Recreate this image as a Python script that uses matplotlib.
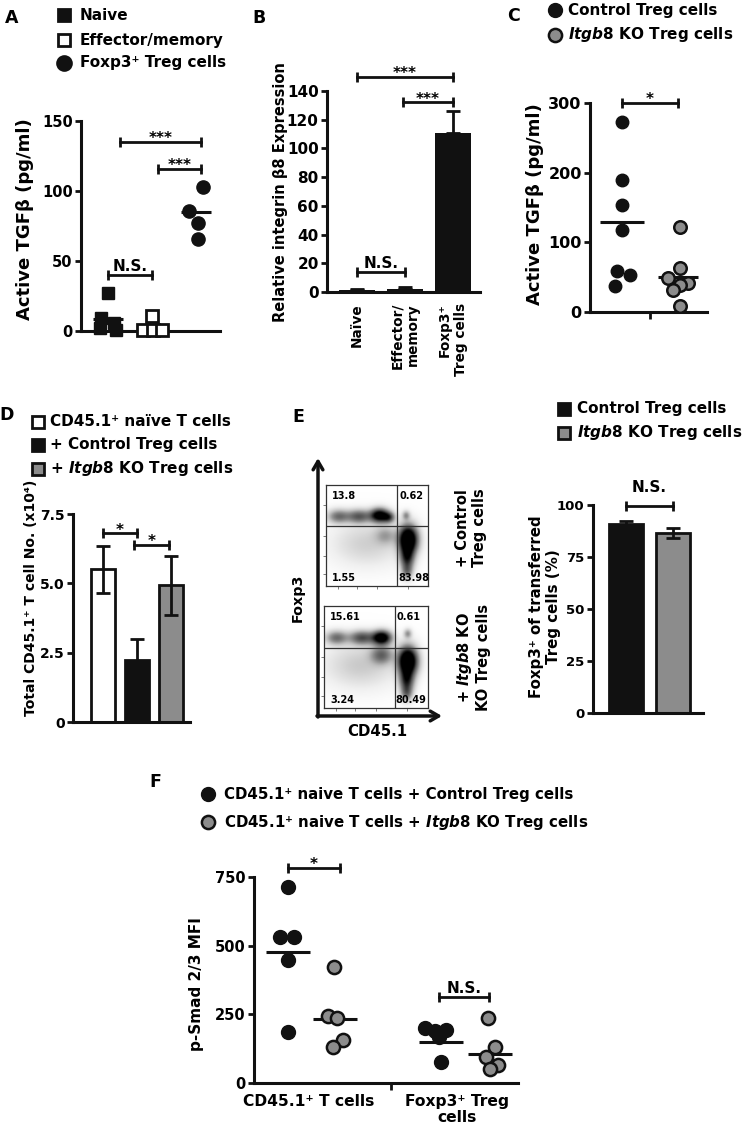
import numpy as np
import matplotlib.pyplot as plt

plt.rcParams['font.family'] = ['DejaVu Sans']
plt.rcParams['font.weight'] = 'bold'
plt.rcParams['mathtext.fontset'] = 'custom'
plt.rcParams['mathtext.rm'] = 'DejaVu Sans:bold'
plt.rcParams['mathtext.it'] = 'DejaVu Sans:italic:bold'
plt.rcParams['mathtext.bf'] = 'DejaVu Sans:bold'
plt.rcParams['mathtext.default'] = 'rm'

BLACK = '#111111'
GRAY = '#8c8c8c'
W, H = 746, 1130

# ---------------- data ----------------
# A: active TGFb (pg/ml)
a_groups = ['Naive', 'Effector/memory', 'Foxp3⁺ Treg cells']
a_naive = [27, 9, 6, 2, 1]
a_effector = [11, 1, 1, 1]
a_treg = [103, 86, 77, 66]
a_lines = [8.5, 2, 85]
a_naive_dx = [0, -0.15, 0.15, -0.18, 0.18]
a_effector_dx = [0, -0.2, 0.02, 0.24]
a_treg_dx = [0.16, -0.16, 0.05, 0.05]

# B: relative integrin b8 expression
b_labels = ['Naïve', 'Effector/\nmemory', 'Foxp3⁺\nTreg cells']
b_vals = [1.2, 2.0, 111]
b_err = [1.0, 1.2, 15]

# C: active TGFb, control vs Itgb8 KO Treg
c_control = [273, 190, 153, 118, 59, 53, 37]
c_ko = [122, 63, 49, 42, 39, 32, 9]
c_means = [129, 50]
c_control_dx = [0, 0, 0, 0, -0.09, 0.15, -0.13]
c_ko_dx = [0.04, 0.04, -0.18, 0.18, 0.04, -0.09, 0.04]

# D: total CD45.1+ T cell number (x10^4)
d_labels = ['CD45.1⁺ naïve T cells', '+ Control Treg cells', '+ $\\mathit{Itgb8}$ KO Treg cells']
d_vals = [5.5, 2.25, 4.93]
d_err = [0.85, 0.75, 1.07]

# E: flow quadrant percentages and Foxp3+ of transferred Treg cells
e_quad_control = ['13.8', '0.62', '1.55', '83.98']
e_quad_ko = ['15.61', '0.61', '3.24', '80.49']
e_labels = ['Control Treg cells', '$\\mathit{Itgb8}$ KO Treg cells']
e_vals = [91, 86.5]
e_err = [1.5, 2.5]
# flow populations: (x, y, spread x, spread y, weight)
e_blobs_control = [(0.12, 0.69, 0.07, 0.045, 0.5), (0.32, 0.69, 0.08, 0.045, 0.6),
                   (0.52, 0.70, 0.06, 0.045, 1.2), (0.61, 0.68, 0.04, 0.035, 0.6),
                   (0.78, 0.70, 0.025, 0.03, 0.35), (0.80, 0.46, 0.06, 0.09, 1.6),
                   (0.79, 0.28, 0.045, 0.08, 0.8), (0.79, 0.14, 0.035, 0.05, 0.4),
                   (0.40, 0.42, 0.22, 0.14, 0.15), (0.58, 0.50, 0.07, 0.06, 0.25)]
e_blobs_ko = [(0.12, 0.69, 0.07, 0.045, 0.5), (0.36, 0.69, 0.08, 0.045, 0.65),
              (0.55, 0.69, 0.06, 0.045, 1.3), (0.80, 0.73, 0.025, 0.03, 0.35),
              (0.80, 0.46, 0.06, 0.09, 1.6), (0.79, 0.27, 0.045, 0.08, 0.8),
              (0.79, 0.14, 0.035, 0.05, 0.4), (0.55, 0.52, 0.07, 0.06, 0.5),
              (0.35, 0.42, 0.22, 0.14, 0.17)]

# F: p-Smad 2/3 MFI
f_cats = ['CD45.1⁺ T cells', 'Foxp3⁺ Treg\ncells']
f_cd45_control = [713, 530, 532, 448, 186]
f_cd45_ko = [422, 244, 237, 157, 131]
f_treg_control = [200, 193, 190, 167, 76]
f_treg_ko = [237, 131, 95, 66, 51]
f_means = [477, 233, 151, 106]
f_cd45_control_dx = [0, -0.17, 0.13, 0, 0]
f_cd45_ko_dx = [-0.02, -0.15, 0.04, 0.17, -0.04]
f_treg_control_dx = [-0.33, 0.1, -0.12, -0.03, 0]
f_treg_ko_dx = [-0.04, 0.1, -0.1, 0.17, 0]


def add_ax(x0, y0, x1, y1):
    return fig.add_axes([x0 / W, 1 - y1 / H, (x1 - x0) / W, (y1 - y0) / H])


def style(ax, fs):
    for s in ['top', 'right']:
        ax.spines[s].set_visible(False)
    for s in ['left', 'bottom']:
        ax.spines[s].set_linewidth(2.2)
        ax.spines[s].set_color(BLACK)
    ax.tick_params(width=2, length=4, labelsize=fs, color=BLACK, pad=2)
    ax.set_facecolor('none')


def bracket(ax, x1, x2, y, label, dy=0, fs=11):
    ax.plot([x1, x2], [y, y], color=BLACK, lw=2, marker='|', ms=7, mew=2,
            clip_on=False, zorder=4)
    ax.annotate(label, xy=((x1 + x2) / 2, y), xytext=(0, dy), textcoords='offset points',
                ha='center', va='baseline', fontsize=fs, annotation_clip=False)


def mean_line(ax, x, v, half):
    ax.plot([x - half, x + half], [v, v], color=BLACK, lw=2.2, zorder=2,
            solid_capstyle='butt')


fig = plt.figure(figsize=(7.46, 11.3), dpi=100)
ov = fig.add_axes([0, 0, 1, 1])
ov.set_xlim(0, W)
ov.set_ylim(H, 0)
ov.axis('off')

# ---------------- A ----------------
ax = add_ax(81, 121, 220, 331)
style(ax, 10.5)
ax.set_xlim(0.39, 3.55)
ax.set_ylim(0, 150)
ax.set_yticks([0, 50, 100, 150])
ax.set_xticks([])
ax.plot(1 + np.array(a_naive_dx), a_naive, 's', ms=9, color=BLACK, clip_on=False, zorder=3)
ax.plot(2 + np.array(a_effector_dx), a_effector, 's', ms=8.5, mfc='white', mec=BLACK,
        mew=2, clip_on=False, zorder=3)
ax.plot(3 + np.array(a_treg_dx), a_treg, 'o', ms=9.5, color=BLACK, zorder=3)
for i, v in enumerate(a_lines):
    mean_line(ax, i + 1, v, 0.34)
bracket(ax, 1, 2, 40, 'N.S.', dy=3)
bracket(ax, 1.28, 3.12, 135, '***', dy=-1)
bracket(ax, 2.14, 3.12, 116, '***', dy=-1)
ov.text(25, 219, 'Active TGFβ (pg/ml)', rotation=90, ha='center', va='center', fontsize=13)
ov.text(12, 18, 'A', ha='center', va='center', fontsize=12.5)
for (mk, fc), lab, yy in zip([('s', BLACK), ('s', 'white'), ('o', BLACK)], a_groups, [15, 40, 63]):
    ov.plot(64, yy, mk, ms=9 if mk == 's' else 10, mfc=fc, mec=BLACK, mew=2)
    ov.text(80, yy, lab, va='center', fontsize=11)

# ---------------- B ----------------
ax = add_ax(327, 91, 480, 292)
style(ax, 11)
ax.set_xlim(0.375, 3.56)
ax.set_ylim(0, 140)
ax.set_yticks(range(0, 141, 20))
xb = np.arange(1, 4)
ax.bar(xb, b_vals, width=0.76, color=BLACK, zorder=2)
ax.errorbar(xb, b_vals, yerr=[[0, 0, 0], b_err], fmt='none', ecolor=BLACK,
            elinewidth=2, capsize=5, capthick=2, zorder=3)
ax.set_xticks(xb)
ax.set_xticklabels(b_labels, rotation=90, ha='center', va='top', multialignment='right',
                   fontsize=9.8)
ax.tick_params(axis='x', length=0, pad=8)
bracket(ax, 1, 2, 14, 'N.S.', dy=3)
bracket(ax, 1, 3, 150, '***', dy=-1)
bracket(ax, 1.95, 3, 132, '***', dy=-1)
ov.text(280, 192, 'Relative integrin β8 Expression', rotation=90, ha='center', va='center',
        fontsize=10.5)
ov.text(259, 18, 'B', ha='center', va='center', fontsize=12.5)

# ---------------- C ----------------
ax = add_ax(590, 103, 707, 312)
style(ax, 11.5)
ax.set_xlim(0.43, 2.52)
ax.set_ylim(0, 300)
ax.set_yticks([0, 100, 200, 300])
ax.set_xticks([1.5])
ax.set_xticklabels([''])
ax.tick_params(axis='x', length=5)
ax.plot(1 + np.array(c_control_dx), c_control, 'o', ms=9, color=BLACK, zorder=3)
ax.plot(2 + np.array(c_ko_dx), c_ko, 'o', ms=9, mfc=GRAY, mec=BLACK, mew=1.8, zorder=3)
mean_line(ax, 1, c_means[0], 0.4)
mean_line(ax, 2, c_means[1], 0.36)
bracket(ax, 1, 2, 300, '*', dy=-1)
ov.text(535, 204, 'Active TGFβ (pg/ml)', rotation=90, ha='center', va='center', fontsize=13)
ov.text(514, 16, 'C', ha='center', va='center', fontsize=12.5)
ov.plot(555, 10, 'o', ms=10, color=BLACK)
ov.text(568, 10, 'Control Treg cells', va='center', fontsize=11)
ov.plot(555, 35, 'o', ms=9.5, mfc=GRAY, mec=BLACK, mew=1.8)
ov.text(568, 35, '$\\mathit{Itgb8}$ KO Treg cells', va='center', fontsize=11)

# ---------------- D ----------------
ax = add_ax(73, 514, 190, 722)
style(ax, 10)
ax.set_xlim(0.118, 3.56)
ax.set_ylim(0, 7.5)
ax.set_yticks([0, 2.5, 5.0, 7.5])
ax.set_yticklabels(['0', '2.5', '5.0', '7.5'])
ax.set_xticks([])
xd = np.arange(1, 4)
d_colors = ['white', BLACK, GRAY]
ax.bar(xd, d_vals, width=0.7, color=d_colors, edgecolor=BLACK, linewidth=2, zorder=2)
ax.errorbar(xd, d_vals, yerr=d_err, fmt='none', ecolor=BLACK, elinewidth=2,
            capsize=5, capthick=2, zorder=3)
bracket(ax, 1, 2, 6.8, '*', dy=-1)
bracket(ax, 1.9, 2.95, 6.38, '*', dy=-1)
ov.text(31, 598, 'Total CD45.1⁺ T cell No. (x10⁴)', rotation=90, ha='center',
        va='center', fontsize=10)
ov.text(7, 415, 'D', ha='center', va='center', fontsize=12.5)
for fc, lab, yy in zip(d_colors, d_labels, [422, 445, 469]):
    ov.plot(38, yy, 's', ms=9, mfc=fc, mec=BLACK, mew=2)
    ov.text(50, yy, lab, va='center', fontsize=11)

# ---------------- E (flow) ----------------
g = np.linspace(0, 1, 160)
GX, GY = np.meshgrid(g, g)


def density(blobs):
    z = np.zeros_like(GX)
    for cx, cy, sx, sy, amp in blobs:
        z += amp * np.exp(-((GX - cx) ** 2 / (2 * sx ** 2) + (GY - cy) ** 2 / (2 * sy ** 2)))
    return np.clip(z, 0, 1) ** 0.65


for (x0, y0, x1, y1), blobs, quad, qx, qy in [
        ((326, 485, 428, 586), e_blobs_control, e_quad_control, 0.70, 0.59),
        ((324, 606, 428, 708), e_blobs_ko, e_quad_ko, 0.68, 0.59)]:
    fx = add_ax(x0, y0, x1, y1)
    fx.imshow(density(blobs), cmap='Greys', vmin=0, vmax=1.0, origin='lower',
              extent=[0, 1, 0, 1], aspect='auto', interpolation='bilinear')
    fx.set_xlim(0, 1)
    fx.set_ylim(0, 1)
    for s in fx.spines.values():
        s.set_linewidth(0.9)
        s.set_color('#333333')
    fx.axvline(qx, color='#333333', lw=0.9)
    fx.axhline(qy, color='#333333', lw=0.9)
    fx.set_xticks([0.12, 0.3, 0.5, 0.8])
    fx.set_yticks([0.12, 0.3, 0.5, 0.8])
    fx.tick_params(length=2, width=0.6, color='#666666', labelbottom=False, labelleft=False)
    fx.text(0.06, 0.89, quad[0], transform=fx.transAxes, va='center', fontsize=7)
    fx.text(qx + 0.02, 0.89, quad[1], transform=fx.transAxes, va='center', fontsize=7)
    fx.text(0.06, 0.08, quad[2], transform=fx.transAxes, va='center', fontsize=7)
    fx.text(qx + 0.005, 0.08, quad[3], transform=fx.transAxes, va='center', fontsize=7)

ov.annotate('', xy=(318, 458), xytext=(318, 717),
            arrowprops=dict(arrowstyle='->,head_width=0.35,head_length=0.6', lw=2.5,
                            color=BLACK, shrinkA=0, shrinkB=0))
ov.annotate('', xy=(442, 716), xytext=(317, 716),
            arrowprops=dict(arrowstyle='->,head_width=0.35,head_length=0.6', lw=2.5,
                            color=BLACK, shrinkA=0, shrinkB=0))
ov.text(298, 598, 'Foxp3', rotation=90, ha='center', va='center', fontsize=10.3)
ov.text(377, 732, 'CD45.1', ha='center', va='center', fontsize=10.7)
ov.text(471, 528, '+ Control\nTreg cells', rotation=90, ha='center', va='center',
        multialignment='center', fontsize=10.5, linespacing=1.15)
ov.text(473, 657, '+ $\\mathit{Itgb8}$ KO\nKO Treg cells', rotation=90, ha='center',
        va='center', multialignment='center', fontsize=10.5, linespacing=1.15)
ov.text(298, 417, 'E', ha='center', va='center', fontsize=12.5)

# ---------------- E (bars) ----------------
ax = add_ax(593, 505, 703, 713)
style(ax, 9.5)
ax.set_xlim(0.3, 2.64)
ax.set_ylim(0, 100)
ax.set_yticks([0, 25, 50, 75, 100])
ax.set_xticks([])
xe = np.arange(1, 3)
ax.bar(xe, e_vals, width=0.72, color=[BLACK, GRAY], edgecolor=BLACK, linewidth=2, zorder=2)
ax.errorbar(xe, e_vals, yerr=e_err, fmt='none', ecolor=BLACK, elinewidth=2,
            capsize=5, capthick=2, zorder=3)
bracket(ax, 1, 2, 99.5, 'N.S.', dy=10)
ov.text(545, 607, 'Foxp3⁺ of transferred\nTreg cells (%)', rotation=90, ha='center',
        va='center', multialignment='center', fontsize=10.8, linespacing=1.1)
for fc, lab, yy in zip([BLACK, GRAY], e_labels, [409, 433]):
    ov.plot(564, yy, 's', ms=9, mfc=fc, mec=BLACK, mew=2)
    ov.text(577, yy, lab, va='center', fontsize=11)

# ---------------- F ----------------
ax = add_ax(254, 877, 518, 1083)
style(ax, 10.5)
ax.set_xlim(0.277, 5.89)
ax.set_ylim(0, 750)
ax.set_yticks([0, 250, 500, 750])
ax.set_xticks([3.2])
ax.set_xticklabels([''])
ax.tick_params(axis='x', length=5)
f_pos = [1, 2, 4.25, 5.3]
f_sets = [(f_cd45_control, f_cd45_control_dx, BLACK), (f_cd45_ko, f_cd45_ko_dx, GRAY),
          (f_treg_control, f_treg_control_dx, BLACK), (f_treg_ko, f_treg_ko_dx, GRAY)]
for p, (vals, dx, col), m in zip(f_pos, f_sets, f_means):
    if col == BLACK:
        ax.plot(p + np.array(dx), vals, 'o', ms=10, color=BLACK, zorder=3)
    else:
        ax.plot(p + np.array(dx), vals, 'o', ms=9.5, mfc=GRAY, mec=BLACK, mew=1.8, zorder=3)
    mean_line(ax, p, m, 0.47)
bracket(ax, 1, 2.1, 783, '*', dy=-1)
bracket(ax, 4.2, 5.27, 313, 'N.S.', dy=3)
for xc, lab in zip([1.43, 4.6], f_cats):
    ax.text(xc, -0.055, lab, transform=ax.get_xaxis_transform(), ha='center', va='top',
            fontsize=11.2, linespacing=1.05)
ov.text(197, 984, 'p-Smad 2/3 MFI', rotation=90, ha='center', va='center', fontsize=11)
ov.text(155, 782, 'F', ha='center', va='center', fontsize=12.5)
ov.plot(208, 794, 'o', ms=10, color=BLACK)
ov.text(224, 794, 'CD45.1⁺ naive T cells + Control Treg cells', va='center', fontsize=10.8)
ov.plot(208, 822, 'o', ms=9.5, mfc=GRAY, mec=BLACK, mew=1.8)
ov.text(224, 822, 'CD45.1⁺ naive T cells + $\\mathit{Itgb8}$ KO Treg cells', va='center',
        fontsize=10.8)

fig.savefig('out.png', dpi=100)
